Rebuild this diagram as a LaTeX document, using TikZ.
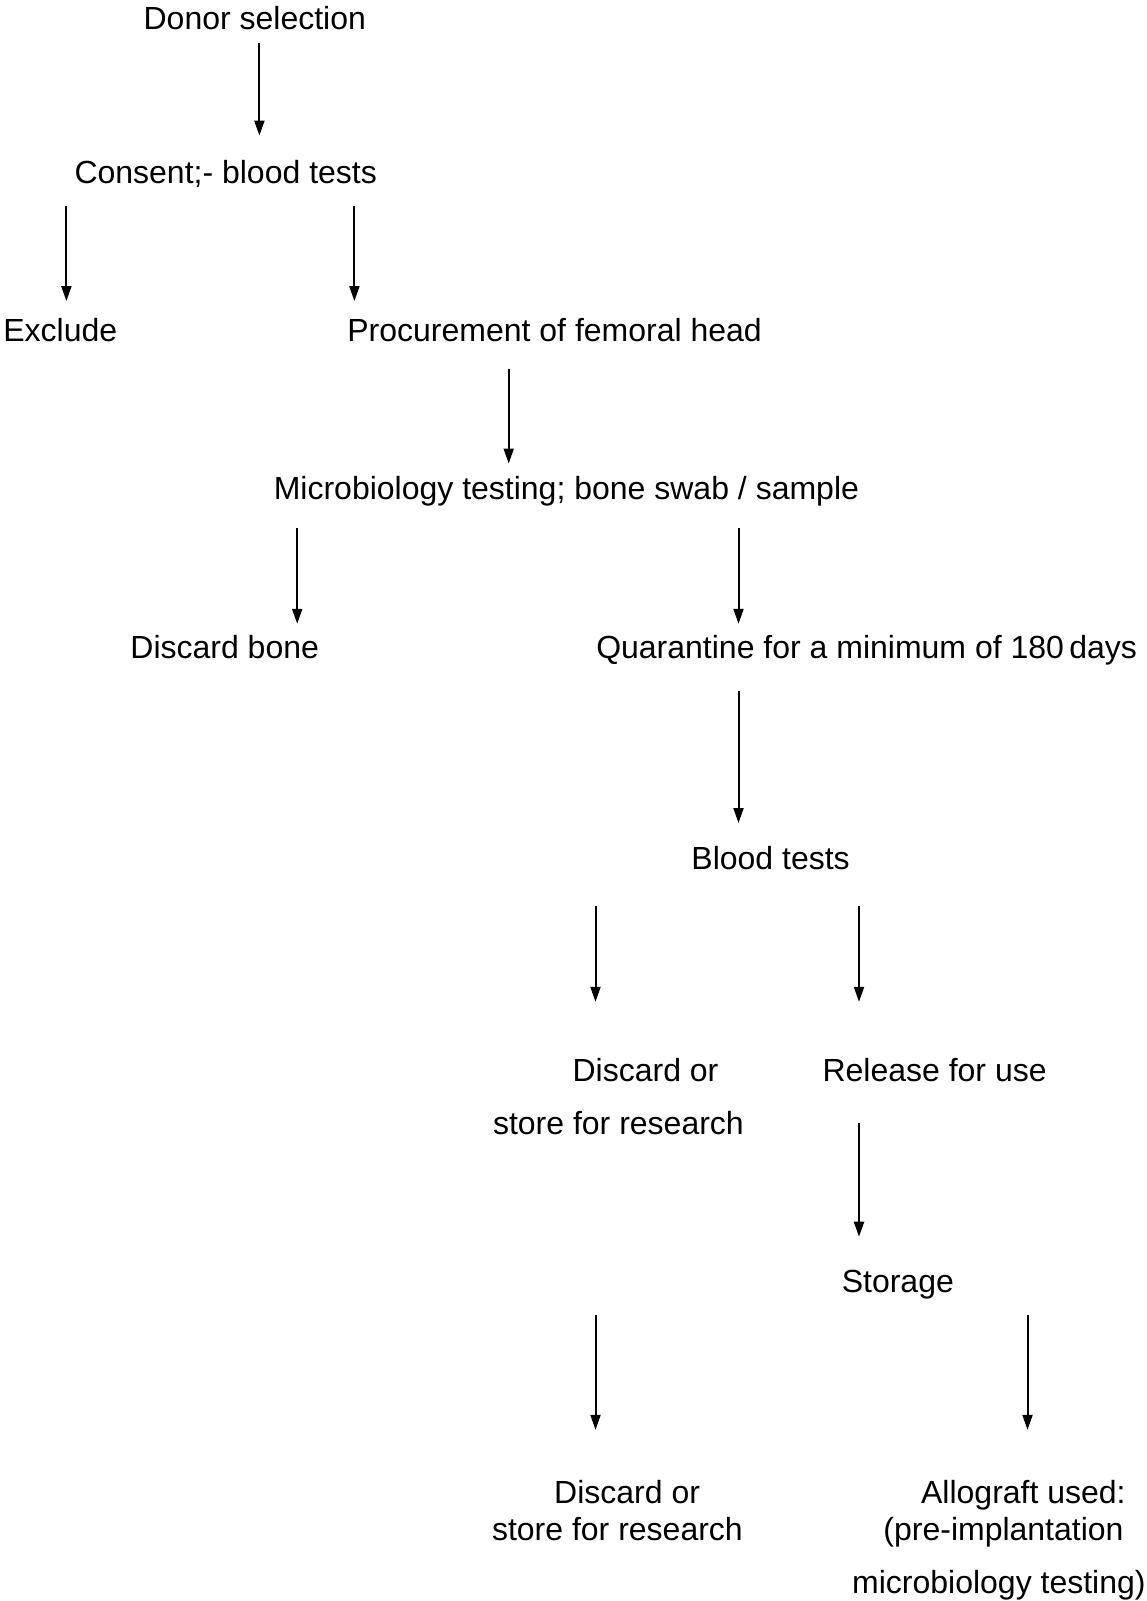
\documentclass[tikz,border=0pt]{standalone}
\usepackage{fontspec}
\setmainfont{Liberation Sans}
\usetikzlibrary{arrows.meta}

\tikzset{
    stage/.style={inner sep=0, anchor=base, text height=23pt, text depth=7pt,
        font=\fontsize{32}{38}\selectfont},
    flow/.style={line width=2pt, -{Triangle[length=15pt, width=10pt]}}
}

\begin{document}
\begin{tikzpicture}[x=1pt, y=-1pt]
            \useasboundingbox (0, 0) rectangle (1146, 1601);
            %\draw[lightgray] (0, 0) grid[step=100] (1146, 1601);
            \node[stage] (donor) at (254.8, 29.9) {Donor selection};
            \node[stage] (consent) at (225.7, 183.1) {Consent;- blood tests};
            \node[stage] (exclude) at (60.3, 341.4) {Exclude};
            \node[stage] (procure) at (554.6, 341.4) {Procurement of femoral head};
            \node[stage] (micro) at (566.4, 499.7) {Microbiology testing; bone swab / sample};
            \node[stage] (discard) at (224.7, 658) {Discard bone};
            \node[stage] (quarantine) at (866.6, 658) {Quarantine for a minimum of 180\,days};
            \node[stage] (blood) at (770.6, 869.5) {Blood tests};
            \node[stage] (research) at (645.5, 1081.9) {Discard or};
            \node[stage] (researchb) at (618.4, 1134) {store for research};
            \node[stage] (release) at (934.6, 1081.9) {Release for use};
            \node[stage] (storage) at (897.8, 1292.3) {Storage};
            \node[stage] (final) at (627.1, 1503.7) {Discard or};
            \node[stage] (finalb) at (617.4, 1540.5) {store for research};
            \node[stage] (allograft) at (1023.4, 1503.7) {Allograft used:};
            \node[stage] (allograftb) at (1003.5, 1540.5) {(pre-implantation};
            \node[stage] (allograftc) at (998.9, 1593.6) {microbiology testing)};
            \draw[flow, shorten <=6pt, shorten >=24.3pt] (donor.south -| 259.4,0) -- (consent.north -| 259.4,0);
            \draw[flow, shorten <=15.2pt, shorten >=17.1pt] (consent.south -| 66.4,0) -- (exclude.north -| 66.4,0);
            \draw[flow, shorten <=15.2pt, shorten >=17.1pt] (consent.south -| 354.4,0) -- (procure.north -| 354.4,0);
            \draw[flow, shorten <=20.3pt, shorten >=13pt] (procure.south -| 508.7,0) -- (micro.north -| 508.7,0);
            \draw[flow, shorten <=21.3pt, shorten >=11pt] (micro.south -| 297.2,0) -- (discard.north -| 297.2,0);
            \draw[flow, shorten <=21.3pt, shorten >=11pt] (micro.south -| 738.5,0) -- (quarantine.north -| 738.5,0);
            \draw[flow, shorten <=25.5pt, shorten >=23.3pt] (quarantine.south -| 738.5,0) -- (blood.north -| 738.5,0);
            \draw[flow, shorten <=29.5pt, shorten >=56.9pt] (blood.south -| 595.5,0) -- (research.north -| 595.5,0);
            \draw[flow, shorten <=29.5pt, shorten >=56.9pt] (blood.south -| 859,0) -- (release.north -| 859,0);
            \draw[flow, shorten <=33.6pt, shorten >=32.4pt] (release.south -| 859,0) -- (storage.north -| 859,0);
            \draw[flow, shorten <=15.2pt, shorten >=50.7pt] (storage.south -| 595.5,0) -- (final.north -| 595.5,0);
            \draw[flow, shorten <=15.2pt, shorten >=50.7pt] (storage.south -| 1027.5,0) -- (allograft.north -| 1027.5,0);
        \end{tikzpicture}
\end{document}
